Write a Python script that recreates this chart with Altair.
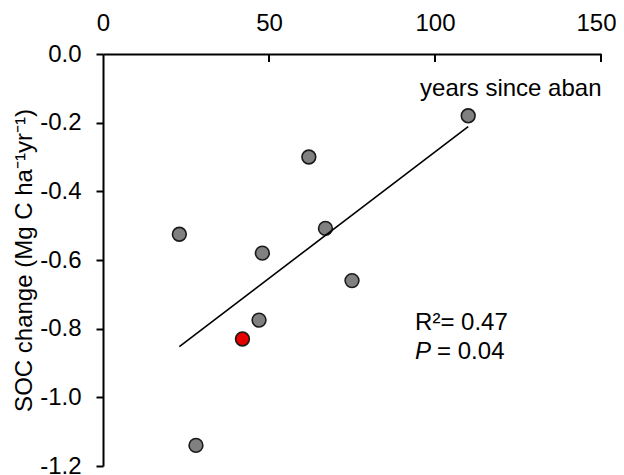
import altair as alt
import pandas as pd

# data
years = [23, 28, 42, 47, 48, 62, 67, 75, 110]
soc = [-0.525, -1.14, -0.83, -0.775, -0.58, -0.30, -0.508, -0.66, -0.18]
group = ["site", "site", "focal", "site", "site", "site", "site", "site", "site"]

x_ticks = [0, 50, 100, 150]
y_ticks = [0.0, -0.2, -0.4, -0.6, -0.8, -1.0, -1.2]

stat_text = ["R\u00b2= 0.47", "P", "= 0.04"]
stat_x = [94, 94, 94]
stat_y = [-0.804, -0.887, -0.887]
stat_id = ["r2", "p", "pval"]

FONT = "Liberation Sans"
FS = 24

df = pd.DataFrame({"years": years, "soc": soc, "group": group})
tick_df = pd.DataFrame({"years": x_ticks[1:]})
stat_df = pd.DataFrame({"years": stat_x, "soc": stat_y, "label": stat_text, "id": stat_id})

xscale = alt.Scale(domain=[0, 150], nice=False, zero=False)
yscale = alt.Scale(domain=[-1.2, 0], nice=False, zero=False)

x_axis = alt.Axis(
    orient="top", values=x_ticks, format="d", grid=False, ticks=False,
    labelFlush=False, labelOverlap=False,
    labelOffset={"condition": {"test": "datum.value == 150", "value": -5}, "value": 0},
    labelFont=FONT, labelFontSize=FS, labelColor="black", labelPadding=19,
    domainColor="black", domainWidth=2,
    title="years since aban", titleFont=FONT, titleFontSize=FS,
    titleFontWeight="normal", titleColor="black", titleX=498, titleY=41,
    titleAlign="right", titleBaseline="alphabetic", titleAngle=0,
)
y_axis = alt.Axis(
    values=y_ticks, grid=False, labelFlush=False, labelOverlap=False,
    labelExpr="datum.value == 0 ? '0.0' : '-' + format(-datum.value, '.1f')",
    labelFont=FONT, labelFontSize=FS, labelColor="black", labelPadding=15,
    tickSize=7, tickWidth=2, tickColor="black",
    domainColor="black", domainWidth=2,
    title="SOC change (Mg C ha\u207b\u00b9yr\u207b\u00b9)", titleFont=FONT,
    titleFontSize=FS, titleFontWeight="normal", titleColor="black",
    titleAngle=270, titleX=-72, titleY=206, titleAlign="center",
    titleBaseline="alphabetic",
)

X = alt.X("years:Q", scale=xscale, axis=x_axis)
Y = alt.Y("soc:Q", scale=yscale, axis=y_axis)

points = alt.Chart(df).mark_point(
    shape="circle", filled=True, size=190, stroke="#1a1a1a", strokeWidth=1.6, opacity=1
).encode(
    x=X, y=Y,
    fill=alt.Fill("group:N", scale=alt.Scale(domain=["site", "focal"], range=["#808080", "#e60000"]), legend=None),
)

line = alt.Chart(df).transform_regression("years", "soc").mark_line(
    color="black", strokeWidth=1.6
).encode(x=X, y=Y)

ticks = alt.Chart(tick_df).mark_rule(color="black", strokeWidth=2).encode(
    x=X,
    y=alt.value(0),
    y2=alt.value(8),
)

def stat_layer(ident, **kw):
    return alt.Chart(stat_df).transform_filter(alt.datum.id == ident).mark_text(
        font=FONT, fontSize=FS, color="black", align="left", baseline="alphabetic", **kw
    ).encode(x=X, y=Y, text="label:N")

r2 = stat_layer("r2")
p = stat_layer("p", fontStyle="italic")
pval = stat_layer("pval", dx=22)

chart = alt.layer(points, line, ticks, r2, p, pval).properties(
    width=498, height=412,
    autosize=alt.AutoSizeParams(type="none"),
    padding={"left": 95, "top": 46, "right": 15, "bottom": 16},
    background="white",
).configure_view(stroke=None)

chart.save("out.html", embed_options={"renderer": "svg", "actions": False})
